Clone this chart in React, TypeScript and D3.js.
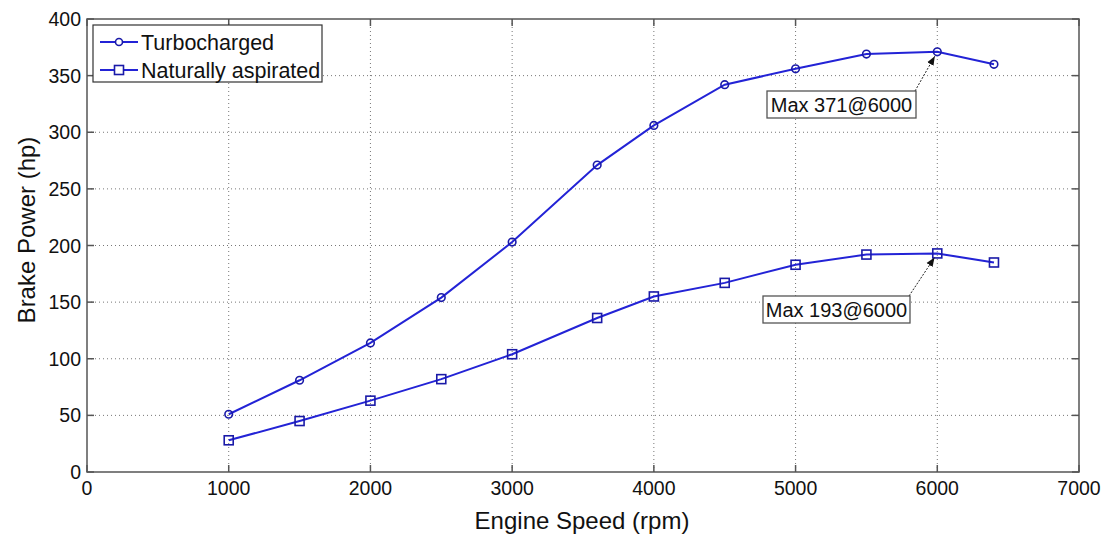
import React, { useEffect, useRef } from "react";
import * as d3 from "d3";

// Engine speed samples (rpm) and brake power (hp) for each engine configuration
const speeds = [1000, 1500, 2000, 2500, 3000, 3600, 4000, 4500, 5000, 5500, 6000, 6400];
const turbocharged = [51, 81, 114, 154, 203, 271, 306, 342, 356, 369, 371, 360];
const naturallyAspirated = [28, 45, 63, 82, 104, 136, 155, 167, 183, 192, 193, 185];

const xTicks = [0, 1000, 2000, 3000, 4000, 5000, 6000, 7000];
const yTicks = [0, 50, 100, 150, 200, 250, 300, 350, 400];

const seriesNames = ["Turbocharged", "Naturally aspirated"];

const W = 1109;
const H = 535;
const M = { left: 87, right: 1079, top: 19, bottom: 472 };
const FONT = "'Liberation Sans', Arial, Helvetica, sans-serif";
const BLUE = "#2323d6";

export default function App() {
  const ref = useRef<SVGSVGElement | null>(null);

  useEffect(() => {
    const svg = d3.select(ref.current);
    svg.selectAll("*").remove();

    const x = d3.scaleLinear().domain([0, 7000]).range([M.left, M.right]);
    const y = d3.scaleLinear().domain([0, 400]).range([M.bottom, M.top]);

    svg.append("rect").attr("width", W).attr("height", H).attr("fill", "#fff");

    // dotted grid
    const grid = svg.append("g").attr("stroke", "#777").attr("stroke-width", 1).attr("stroke-dasharray", "1,3");
    xTicks.slice(1, -1).forEach((t) => {
      grid.append("line").attr("x1", x(t)).attr("x2", x(t)).attr("y1", M.top).attr("y2", M.bottom);
    });
    yTicks.slice(1, -1).forEach((t) => {
      grid.append("line").attr("x1", M.left).attr("x2", M.right).attr("y1", y(t)).attr("y2", y(t));
    });

    // axes box with inward ticks on all sides
    const frame = svg.append("g").attr("stroke", "#555").attr("stroke-width", 1.5).attr("fill", "none");
    frame.append("rect").attr("x", M.left).attr("y", M.top).attr("width", M.right - M.left).attr("height", M.bottom - M.top);
    const tl = 7;
    xTicks.forEach((t) => {
      frame.append("line").attr("x1", x(t)).attr("x2", x(t)).attr("y1", M.bottom).attr("y2", M.bottom - tl);
      frame.append("line").attr("x1", x(t)).attr("x2", x(t)).attr("y1", M.top).attr("y2", M.top + tl);
    });
    yTicks.forEach((t) => {
      frame.append("line").attr("x1", M.left).attr("x2", M.left + tl).attr("y1", y(t)).attr("y2", y(t));
      frame.append("line").attr("x1", M.right).attr("x2", M.right - tl).attr("y1", y(t)).attr("y2", y(t));
    });

    // tick labels
    const lab = svg.append("g").attr("font-family", FONT).attr("font-size", 19.5).attr("fill", "#111");
    xTicks.forEach((t) => {
      lab.append("text").attr("x", x(t)).attr("y", M.bottom + 23).attr("text-anchor", "middle").text(String(t));
    });
    yTicks.forEach((t) => {
      lab.append("text").attr("x", M.left - 6).attr("y", y(t) + 7).attr("text-anchor", "end").text(String(t));
    });

    // axis titles
    svg.append("text").attr("x", 582).attr("y", 529).attr("text-anchor", "middle")
      .attr("font-family", FONT).attr("font-size", 24).attr("fill", "#111").text("Engine Speed (rpm)");
    svg.append("text").attr("transform", `translate(35,230) rotate(-90)`)
      .attr("text-anchor", "middle").attr("font-family", FONT).attr("font-size", 24).attr("fill", "#111")
      .text("Brake Power (hp)");

    const line = d3.line<number>().x((_, i) => x(speeds[i])).y((d) => y(d));
    const series = [turbocharged, naturallyAspirated];

    series.forEach((vals, si) => {
      svg.append("path").attr("d", line(vals) as string).attr("fill", "none")
        .attr("stroke", BLUE).attr("stroke-width", 2);
      const g = svg.append("g").attr("fill", "none").attr("stroke", "#1a1aa8").attr("stroke-width", 1.6);
      vals.forEach((v, i) => {
        if (si === 0) {
          g.append("circle").attr("cx", x(speeds[i])).attr("cy", y(v)).attr("r", 3.8);
        } else {
          g.append("rect").attr("x", x(speeds[i]) - 4.5).attr("y", y(v) - 4.5).attr("width", 9).attr("height", 9);
        }
      });
    });

    // legend
    const lg = svg.append("g");
    lg.append("rect").attr("x", 93).attr("y", 25).attr("width", 229).attr("height", 57)
      .attr("fill", "#fff").attr("stroke", "#333").attr("stroke-width", 1.2);
    seriesNames.forEach((name, i) => {
      const cy = 42 + i * 28;
      lg.append("line").attr("x1", 100).attr("x2", 138).attr("y1", cy).attr("y2", cy)
        .attr("stroke", BLUE).attr("stroke-width", 2);
      if (i === 0) {
        lg.append("circle").attr("cx", 119).attr("cy", cy).attr("r", 3.5)
          .attr("fill", "#fff").attr("stroke", "#1a1aa8").attr("stroke-width", 1.6);
      } else {
        lg.append("rect").attr("x", 114.5).attr("y", cy - 4.5).attr("width", 9).attr("height", 9)
          .attr("fill", "#fff").attr("stroke", "#1a1aa8").attr("stroke-width", 1.6);
      }
      lg.append("text").attr("x", 141).attr("y", cy + 7.5).attr("font-family", FONT)
        .attr("font-size", 21.5).attr("fill", "#111").text(name);
    });

    // peak annotations
    const defs = svg.append("defs");
    defs.append("marker").attr("id", "arrowhead").attr("viewBox", "0 0 10 10").attr("refX", 10).attr("refY", 5)
      .attr("markerWidth", 9).attr("markerHeight", 9).attr("orient", "auto-start-reverse")
      .append("path").attr("d", "M0,1 L10,5 L0,9 Z").attr("fill", "#111");

    const peaks = [
      { vals: turbocharged, box: { x: 767, y: 91, w: 149, h: 27 } },
      { vals: naturallyAspirated, box: { x: 763, y: 296, w: 147, h: 27 } },
    ];
    peaks.forEach(({ vals, box }) => {
      const idx = vals.indexOf(d3.max(vals) as number);
      const px = x(speeds[idx]);
      const py = y(vals[idx]);
      const dx = px - (box.x + box.w - 1);
      const dy = py - box.y;
      const len = Math.hypot(dx, dy);
      const ex = px - (dx / len) * 5;
      const ey = py - (dy / len) * 5;
      svg.append("line").attr("x1", box.x + box.w - 1).attr("y1", box.y).attr("x2", ex).attr("y2", ey)
        .attr("stroke", "#222").attr("stroke-width", 1).attr("stroke-dasharray", "2,1.5")
        .attr("marker-end", "url(#arrowhead)");
      svg.append("rect").attr("x", box.x).attr("y", box.y).attr("width", box.w).attr("height", box.h)
        .attr("fill", "#fff").attr("stroke", "#555").attr("stroke-width", 1.3);
      svg.append("text").attr("x", box.x + box.w / 2).attr("y", box.y + 21).attr("text-anchor", "middle")
        .attr("font-family", FONT).attr("font-size", 20).attr("fill", "#111")
        .text(`Max ${vals[idx]}@${speeds[idx]}`);
    });
  }, []);

  return (
    <svg ref={ref} width={W} height={H} style={{ position: "absolute", left: 0, top: 0, display: "block" }} />
  );
}
